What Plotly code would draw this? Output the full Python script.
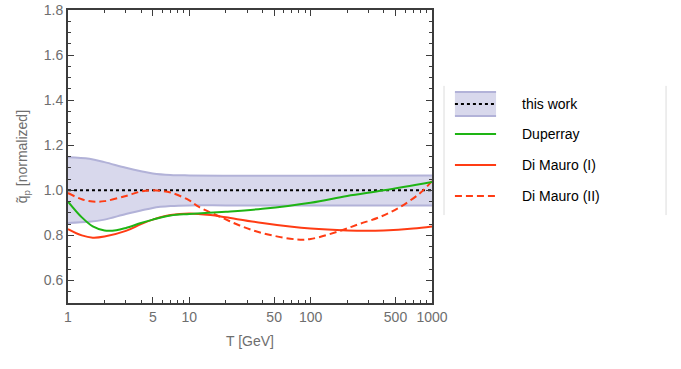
import plotly.graph_objects as go

# band of this work (normalized to 1)
band_T = [1, 1.5, 2, 3, 4, 5, 7, 10, 20, 50, 100, 1000]
band_hi = [1.147, 1.14, 1.125, 1.10, 1.085, 1.075, 1.068, 1.066, 1.065, 1.065, 1.065, 1.066]
band_lo = [0.855, 0.86, 0.87, 0.895, 0.91, 0.922, 0.93, 0.933, 0.933, 0.933, 0.933, 0.933]

dup_T = [1, 1.3, 1.6, 2, 2.5, 3, 4, 5, 7, 10, 20, 40, 100, 200, 400, 1000]
dup_q = [0.95, 0.88, 0.84, 0.822, 0.823, 0.833, 0.855, 0.87, 0.888, 0.895, 0.905, 0.918, 0.945, 0.975, 1.0, 1.037]

dm1_T = [1, 1.3, 1.6, 2, 3, 4, 5, 7, 10, 15, 20, 40, 100, 200, 400, 700, 1000]
dm1_q = [0.828, 0.80, 0.79, 0.795, 0.82, 0.85, 0.87, 0.89, 0.897, 0.89, 0.88, 0.855, 0.83, 0.822, 0.822, 0.83, 0.84]

dm2_T = [1, 1.3, 1.6, 2, 3, 4, 5, 7, 10, 12, 18, 26, 40, 77, 100, 174, 250, 374, 545, 795, 1000]
dm2_q = [0.988, 0.96, 0.95, 0.952, 0.975, 0.995, 1.0, 0.99, 0.955, 0.926, 0.882, 0.844, 0.81, 0.782, 0.784, 0.82, 0.85, 0.882, 0.926, 0.987, 1.041]

major_x = [1, 5, 10, 50, 100, 500, 1000]
minor_x = [2, 3, 4, 6, 7, 8, 9, 20, 30, 40, 60, 70, 80, 90, 200, 300, 400, 600, 700, 800, 900]

legend_names = ["this work", "Duperray", "Di Mauro (I)", "Di Mauro (II)"]

GREEN = "rgb(30,180,20)"
RED = "rgb(255,60,20)"
BAND_FILL = "rgba(200,200,228,0.7)"
BAND_EDGE = "rgb(178,178,216)"
FRAME = "rgb(60,60,60)"
GREY = "rgb(110,110,110)"
DOT = "3px,3px"
DASH = "7px,4px"

fig = go.Figure()

fig.add_trace(go.Scatter(x=band_T, y=band_lo, mode="lines", line=dict(color=BAND_EDGE, width=2, shape="spline"),
                         showlegend=False, hoverinfo="skip"))
fig.add_trace(go.Scatter(x=band_T, y=band_hi, mode="lines", fill="tonexty", fillcolor=BAND_FILL,
                         line=dict(color=BAND_EDGE, width=2, shape="spline"), showlegend=False, hoverinfo="skip"))
fig.add_trace(go.Scatter(x=[1, 1000], y=[1, 1], mode="lines", line=dict(color="black", width=2, dash=DOT),
                         showlegend=False))
fig.add_trace(go.Scatter(x=dm2_T, y=dm2_q, mode="lines", line=dict(color=RED, width=2, dash=DASH, shape="spline"),
                         showlegend=False))
fig.add_trace(go.Scatter(x=dm1_T, y=dm1_q, mode="lines", line=dict(color=RED, width=2, shape="spline"),
                         showlegend=False))
fig.add_trace(go.Scatter(x=dup_T, y=dup_q, mode="lines", line=dict(color=GREEN, width=2, shape="spline"),
                         showlegend=False))

# invisible trace carrying the minor ticks
fig.add_trace(go.Scatter(x=[1, 1000], y=[None, None], xaxis="x2", yaxis="y2", showlegend=False, hoverinfo="skip"))

tickfont = dict(family="Liberation Sans, Arial, sans-serif", size=14, color=GREY)

fig.update_layout(
    width=681, height=369,
    margin=dict(l=68, r=249, t=10, b=66),
    plot_bgcolor="white", paper_bgcolor="white",
    xaxis=dict(type="log", range=[0, 3], tickvals=major_x, ticktext=[str(v) for v in major_x],
               ticks="inside", ticklen=6, tickcolor=FRAME, showgrid=False, zeroline=False, automargin=False,
               showline=True, linecolor=FRAME, linewidth=2, mirror="ticks", tickfont=tickfont,
               title=dict(text="T [GeV]", font=tickfont, standoff=12)),
    xaxis2=dict(type="log", range=[0, 3], overlaying="x", tickvals=minor_x, showticklabels=False,
                ticks="inside", ticklen=3, tickcolor=FRAME, showgrid=False, zeroline=False, automargin=False,
                showline=False, mirror="ticks", anchor="y"),
    yaxis=dict(range=[0.5, 1.8], tickvals=[0.6, 0.8, 1.0, 1.2, 1.4, 1.6, 1.8], tickformat=".1f",
               ticks="inside", ticklen=6, tickcolor=FRAME, showgrid=False, zeroline=False, automargin=False,
               showline=True, linecolor=FRAME, linewidth=2, mirror="ticks", tickfont=tickfont),
    yaxis2=dict(range=[0.5, 1.8], overlaying="y", anchor="x", dtick=0.05, tick0=0.5, showticklabels=False,
                ticks="inside", ticklen=3, tickcolor=FRAME, showgrid=False, zeroline=False, automargin=False,
                mirror="ticks"),
    showlegend=False,
)

# y title placed by hand so it sits close to the tick labels
fig.add_annotation(x=-0.124, y=0.5, xref="paper", yref="paper", text="q̃<sub>p</sub> [normalized]",
                   textangle=-90, showarrow=False, xanchor="center", yanchor="middle", font=tickfont)

# hand-built legend (Mathematica style, side bars only)
for xp in [1.033, 1.643]:
    fig.add_shape(type="line", xref="paper", yref="paper", x0=xp, x1=xp, y0=0.300, y1=0.741,
                  line=dict(color="rgb(220,220,220)", width=1))

rows = [0.679, 0.577, 0.471, 0.365]
x0, x1 = 1.063, 1.176
fig.add_shape(type="rect", xref="paper", yref="paper", x0=x0, x1=x1, y0=0.638, y1=0.720,
              fillcolor=BAND_FILL, line=dict(width=0))
for yb in [0.638, 0.720]:
    fig.add_shape(type="line", xref="paper", yref="paper", x0=x0, x1=x1, y0=yb, y1=yb,
                  line=dict(color=BAND_EDGE, width=2))
styles = [("black", DOT), (GREEN, "solid"), (RED, "solid"), (RED, DASH)]
for yr, (c, d) in zip(rows, styles):
    fig.add_shape(type="line", xref="paper", yref="paper", x0=x0, x1=x1, y0=yr, y1=yr,
                  line=dict(color=c, width=2, dash=d))
for yr, name in zip(rows, legend_names):
    fig.add_annotation(x=1.242, y=yr, xref="paper", yref="paper", text=name, showarrow=False,
                       xanchor="left", yanchor="middle",
                       font=dict(family="Liberation Sans, Arial, sans-serif", size=14, color="black"))

fig.write_html("out.html", config={"displayModeBar": False},
               post_script="document.body.style.margin='0px';")
